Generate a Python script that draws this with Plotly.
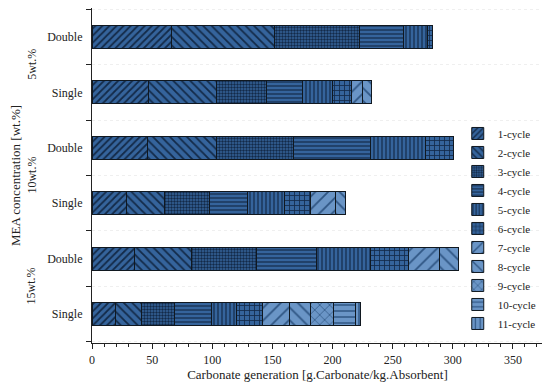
import plotly.graph_objects as go

# Rows from bottom to top
row_labels = ["Single", "Double", "Single", "Double", "Single", "Double"]
group_labels = ["15wt.%", "10wt.%", "5wt.%"]
cycles = ["1-cycle", "2-cycle", "3-cycle", "4-cycle", "5-cycle", "6-cycle",
          "7-cycle", "8-cycle", "9-cycle", "10-cycle", "11-cycle"]

# values per row (bottom->top), per cycle (None = absent)
s15 = [19.4, 21.5, 27.5, 31.3, 20.8, 21.6, 21.8, 17.8, 19.0, 18.0, 4.8]
d15 = [35.4, 47.7, 54.0, 49.2, 44.9, 31.8, 25.8, 16.3, None, None, None]
s10 = [28.5, 31.6, 37.4, 31.8, 30.5, 21.6, 20.7, 8.3, None, None, None]
d10 = [46.2, 57.1, 64.2, 64.3, 45.7, 22.9, None, None, None, None, None]
s5 = [47.0, 56.3, 41.5, 30.5, 24.6, 15.6, 9.3, 7.8, None, None, None]
d5 = [66.5, 84.9, 70.7, 37.3, 19.4, 4.2, None, None, None, None, None]
rows = [s15, d15, s10, d10, s5, d5]

dark_bg = "#35649c"
dark_fg = "#132a48"
light_bg = "#6a95c6"
light_fg = "#2f5684"
patterns = [
    ("/", 5, 0.35), ("\\", 6, 0.3), (".", 3, 0.5), ("-", 4, 0.3), ("|", 4, 0.3),
    ("+", 5, 0.3), ("/", 9, 0.2), ("\\", 9, 0.2), ("x", 7, 0.2), ("-", 6, 0.25),
    ("|", 6, 0.25),
]

font_family = "Liberation Serif"
fig = go.Figure()
ypos = list(range(len(row_labels)))
for i, name in enumerate(cycles):
    shape, size, sol = patterns[i]
    light = i >= 6
    fig.add_trace(go.Bar(
        x=[r[i] for r in rows], y=ypos, name=name, orientation="h", width=0.41,
        marker=dict(
            color=light_bg if light else dark_bg,
            line=dict(color="#101820", width=1),
            pattern=dict(shape=shape, size=size, solidity=sol,
                         fgcolor=light_fg if light else dark_fg,
                         bgcolor=light_bg if light else dark_bg,
                         fillmode="replace"),
        ),
    ))

for k, g in enumerate(group_labels):
    fig.add_annotation(text=g, xref="paper", yref="y", x=-0.155, y=2 * k + 0.5,
                       textangle=-90, showarrow=False,
                       font=dict(family=font_family, size=12, color="#222"))

# page body has an 8px margin: figure is sized/margined to compensate
fig.update_layout(
    width=542, height=382, barmode="stack",
    margin=dict(l=84, r=7, t=0, b=47),
    plot_bgcolor="white", paper_bgcolor="white",
    font=dict(family=font_family, size=12, color="#222"),
    legend=dict(x=0.995, xanchor="right", y=0.015, yanchor="bottom",
                bgcolor="rgba(0,0,0,0)", traceorder="normal",
                font=dict(family=font_family, size=11, color="#222")),
    showlegend=True,
)
fig.update_xaxes(
    range=[0, 375], dtick=50, tick0=0, showline=True, linecolor="#222", linewidth=1.2,
    mirror=True, ticks="outside", ticklen=5, tickcolor="#222", showgrid=False,
    zeroline=False,
    minor=dict(dtick=10, tick0=0, ticks="outside", ticklen=3, tickcolor="#222"),
    title=dict(text="Carbonate generation [g.Carbonate/kg.Absorbent]",
               font=dict(family=font_family, size=13), standoff=4),
    tickfont=dict(family=font_family, size=12),
)
fig.update_yaxes(
    range=[-0.52, 5.52], tickvals=ypos, ticktext=row_labels,
    showline=True, linecolor="#222", linewidth=1.2, mirror=True,
    ticks="", showgrid=False, zeroline=False, ticklabelstandoff=6,
    minor=dict(dtick=1, tick0=0.5, ticks="outside", ticklen=5, tickcolor="#222",
               showgrid=True, gridcolor="#efefef", griddash="dot", gridwidth=1),
    title=dict(text="MEA concentration [wt.%]",
               font=dict(family=font_family, size=13), standoff=28),
    tickfont=dict(family=font_family, size=12),
)

fig.write_html("out.html")
